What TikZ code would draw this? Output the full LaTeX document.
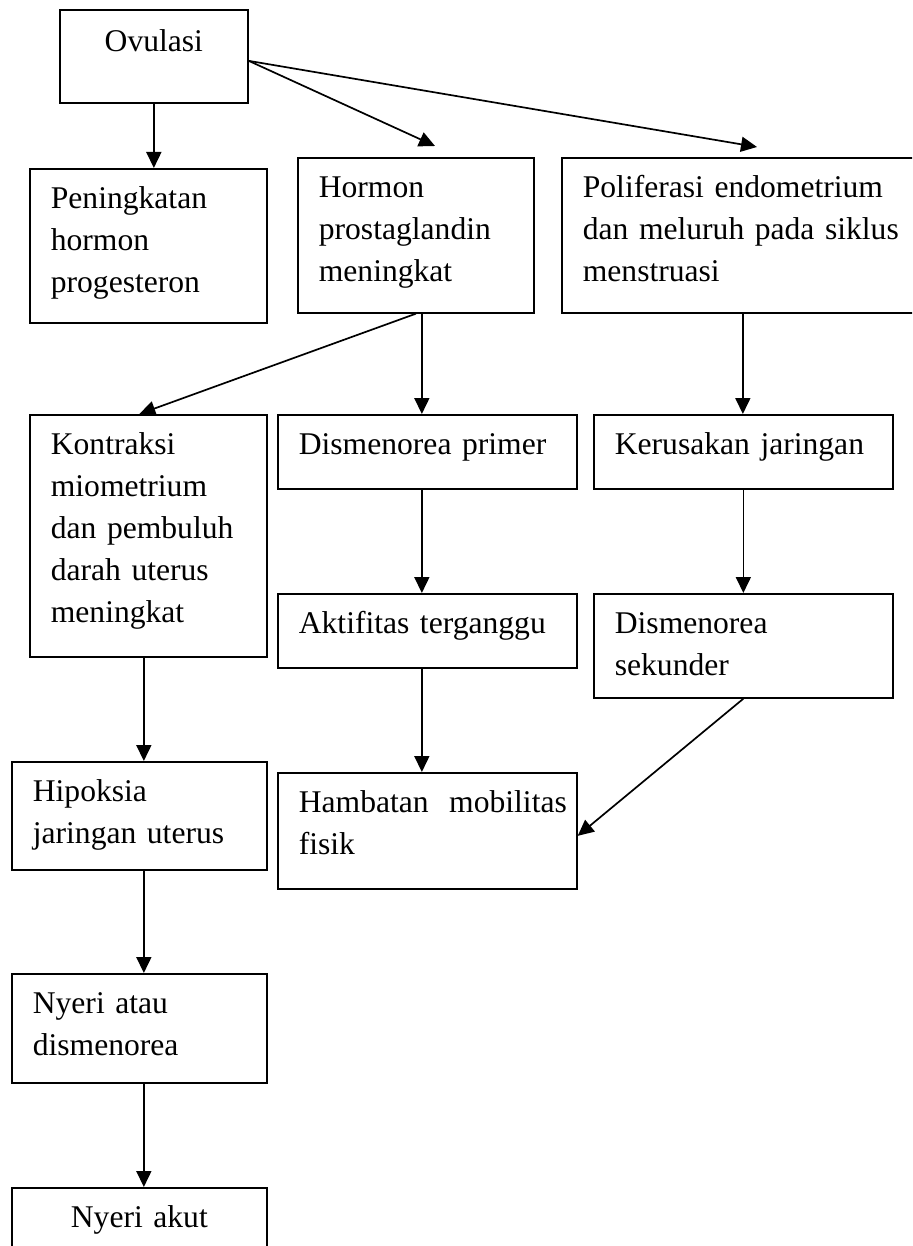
\documentclass[tikz,border=0pt]{standalone}
\usepackage{fontspec}
\setmainfont{Liberation Serif}
\usetikzlibrary{arrows.meta}
\tikzset{
	kotak/.style={draw, line width=0.85pt, anchor=north west, inner xsep=10.5pt, inner ysep=0pt,
		align=left, text height=20pt, font=\fontsize{15.8}{21}\selectfont},
	ukuran/.style 2 args={text width=#1, text depth=#2},
	panah/.style={line width=0.85pt, -{Triangle[length=8pt,width=7.5pt]}}
}

\begin{document}
\begin{tikzpicture}[x=0.5pt,y=-0.5pt]
	\useasboundingbox (0,0) rectangle (912,1246);
	\fill[white] (0,0) rectangle (912,1246);
	\clip (0,0) rectangle (912,1246);

	% baris atas
	\node[kotak, ukuran={73pt}{25.5pt}, text height=21pt, align=center] (ovulasi) at (59,9) {Ovulasi};
	\node[kotak, ukuran={97.5pt}{57pt}] (peningkatan) at (29,168) {Peningkatan\\hormon\\progesteron};
	\node[kotak, ukuran={97pt}{57.5pt}] (hormon) at (297,157) {Hormon\\prostaglandin\\meningkat};
	\node[kotak, ukuran={160pt}{57.5pt}] (poliferasi) at (561,157) {Poliferasi endometrium\\dan meluruh pada siklus\\menstruasi};

	% baris tengah
	\node[kotak, ukuran={97.5pt}{101pt}] (kontraksi) at (29,414) {Kontraksi\\miometrium\\dan pembuluh\\darah uterus\\meningkat};
	\node[kotak, ukuran={128.5pt}{17pt}] (primer) at (277,414) {Dismenorea primer};
	\node[kotak, ukuran={128.5pt}{17pt}] (kerusakan) at (593,414) {Kerusakan jaringan};
	\node[kotak, ukuran={128.5pt}{17pt}] (aktifitas) at (277,593) {Aktifitas terganggu};
	\node[kotak, ukuran={128.5pt}{32pt}] (sekunder) at (593,593) {Dismenorea\\sekunder};

	% baris bawah
	\node[kotak, ukuran={106.5pt}{34pt}] (hipoksia) at (11,761) {Hipoksia\\jaringan uterus};
	\node[kotak, ukuran={128.5pt}{38pt}] (hambatan) at (277,772) {\hbox to 134pt{Hambatan\hfill mobilitas}\\fisik};
	\node[kotak, ukuran={106.5pt}{34.5pt}] (nyeri) at (11,973) {Nyeri atau\\dismenorea};
	\node[kotak, ukuran={106.5pt}{34.5pt}, align=center] (akut) at (11,1187) {Nyeri akut};

	% panah
	\coordinate (ujungA) at (435,146);
	\coordinate (ujungB) at (757,147);
	\draw[panah] ([yshift=-2.25pt]ovulasi.east) -- (ujungA);
	\draw[panah] ([yshift=-2.25pt]ovulasi.east) -- (ujungB);
	\draw[panah] (hormon.south) -- ([xshift=-4.5pt]kontraksi.north);
	\draw[panah] (sekunder.south) -- ([yshift=-2.5pt]hambatan.east);
	\foreach \a/\b/\s in {ovulasi/peningkatan/0, hormon/primer/3, poliferasi/kerusakan/0,
		primer/aktifitas/-2.75, kerusakan/sekunder/0, kontraksi/hipoksia/-2.25,
		aktifitas/hambatan/-2.75, hipoksia/nyeri/2.25, nyeri/akut/2.25}{
		\draw[panah] ([xshift=\s pt]\a.south) -- ([xshift=\s pt]\a.south |- \b.north);
	}
\end{tikzpicture}
\end{document}
